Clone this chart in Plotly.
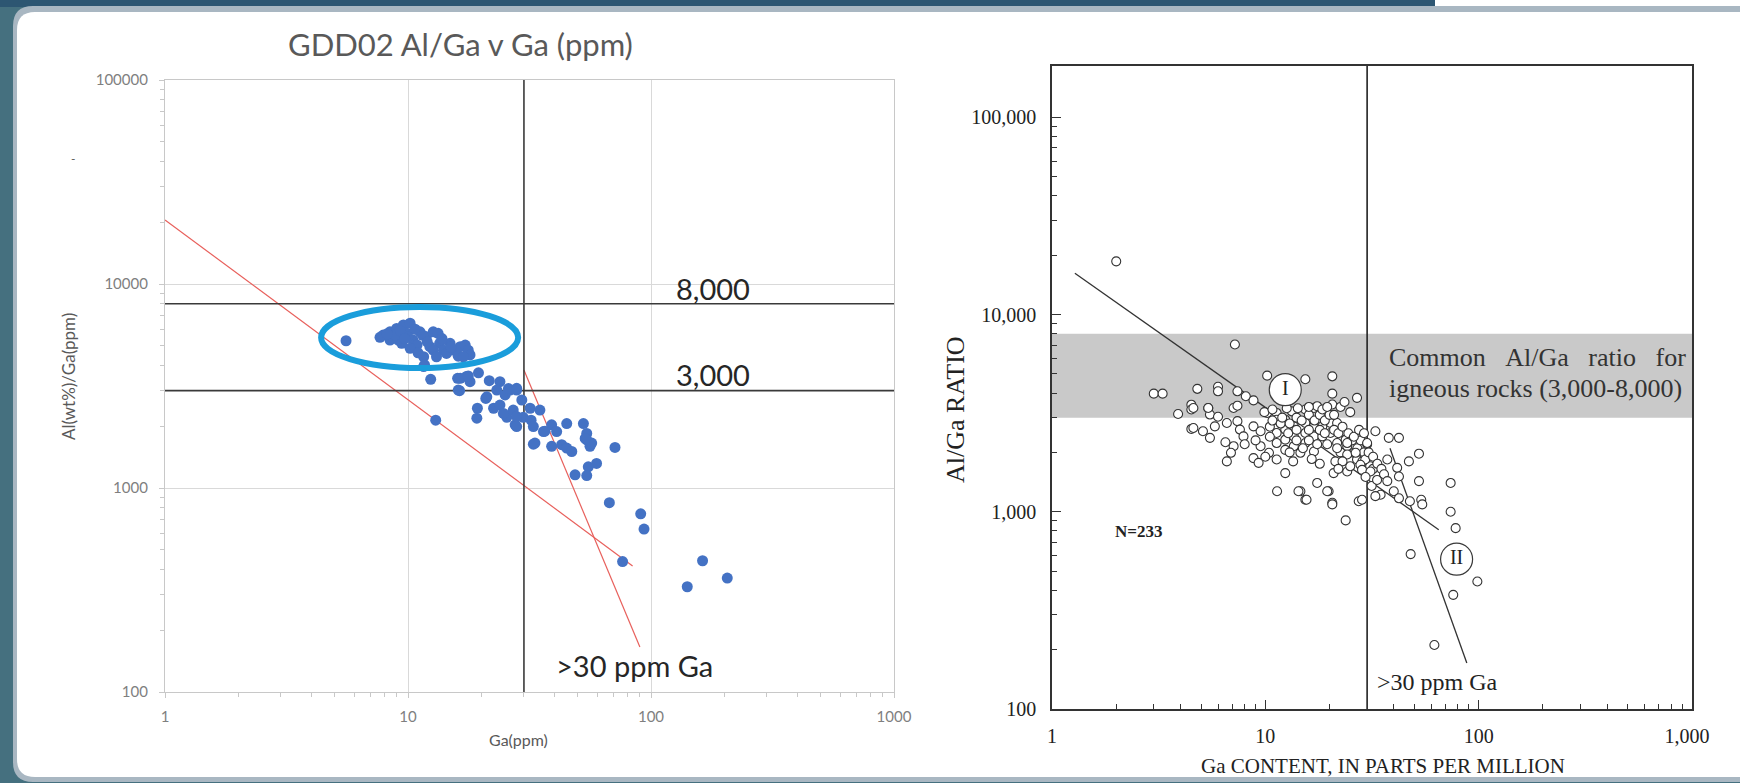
import plotly.graph_objects as go

W, H = 1740, 783

# ---------------- LEFT CHART DATA (GDD02) ----------------
gdd_cluster_ga = [5.56, 7.91, 8.43, 8.98, 9.57, 10.2, 9.88, 9.12, 10.5, 11.2, 10.9, 11.9,
                  12.7, 13.3, 12.3, 13.5, 14.0, 14.9, 15.4, 16.4, 17.2, 17.7, 18.0, 16.1,
                  11.6, 11.6, 7.67, 8.43, 9.42, 10.2, 12.7, 14.4, 16.9, 13.1, 8.85, 9.3,
                  10.7, 11.5, 12.0, 10.0, 11.0, 13.8, 15.0, 8.2, 9.7, 11.7]
gdd_cluster_ratio = [5270, 5620, 5830, 6060, 6300, 6420, 5730, 5310, 5310, 5830, 5020, 5520,
                     5830, 5730, 4930, 5120, 4740, 5120, 4740, 4930, 5020, 4740, 4490, 4430,
                     4400, 3940, 5480, 5310, 5120, 4840, 4740, 4570, 4400, 4400, 5620, 5900,
                     6000, 5600, 5200, 5500, 4600, 5400, 4900, 5700, 5400, 4010]
gdd_tail_ga = [12.4, 13.0, 16.3, 16.0, 17.4, 19.5, 18.0, 21.6, 23.9, 19.3,
               19.2, 20.9, 22.5, 23.2, 25.1, 26.3, 28.0, 25.5, 27.6, 23.9,
               27.1, 29.4, 29.8, 31.8, 34.9, 32.1, 32.8, 36.1, 39.0, 40.9,
               45.0, 39.0, 42.9, 45.0, 47.2, 52.7, 54.4, 54.4, 56.1, 57.0,
               53.6, 71.1, 59.7, 55.2, 48.7, 54.4, 67.4, 90.7, 93.6, 76.4,
               163, 206, 141,
               16.4, 17.7, 21.1, 25.9, 28.0, 24.7, 28.0, 32.8, 28.0, 33.3, 36.6, 16.1]
gdd_tail_ratio = [3410, 2150, 3000, 3450, 3520, 3670, 3320, 3360, 3320, 2460,
                  2200, 2750, 2460, 3020, 2860, 3020, 3080, 2220, 2040, 2550,
                  2410, 2700, 2220, 2460, 2410, 2150, 1640, 1890, 2040, 1890,
                  2070, 1600, 1630, 1570, 1510, 2070, 1850, 1720, 1600, 1660,
                  1750, 1580, 1320, 1270, 1160, 1150, 847, 747, 629, 436,
                  440, 362, 328,
                  3450, 3540, 2800, 3070, 3020, 2320, 2240, 2000, 2000, 1660, 1900, 3020]

red_line1_ga = [1, 84]
red_line1_ratio = [20600, 415]
red_line2_ga = [30, 90]
red_line2_ratio = [3790, 166]
highlight_ga = [4.39, 28.4]
highlight_ratio = [3873, 7710]

ratio_low, ratio_high, ga_cut = 3000, 8000, 30

# ---------------- RIGHT CHART DATA (reference, N=233) ----------------
ref_a_ga = [2.0, 7.2, 3.0, 3.3, 4.8, 6.0, 6.0, 10.2, 15.4, 20.6, 20.6, 20.6, 22.5, 26.9, 7.4, 8.1, 8.8]
ref_a_ratio = [18600, 7050, 3970, 3970, 4200, 4300, 4080, 4900, 4700, 4860, 3970, 3500, 3400, 3780, 4080, 3850, 3670]
ref_b_ga = [3.9, 4.5, 4.5, 5.4, 5.5, 6.0, 7.1, 7.4, 4.5, 5.1, 5.5, 5.8, 6.6, 7.4, 7.6, 7.9, 8.8, 9.5,
            7.1, 6.9, 6.6, 8.8, 9.3, 9.5, 10.4, 4.6, 5.4, 4.6, 10.0, 9.0, 8.0, 6.5]
ref_b_ratio = [3130, 3490, 3300, 3360, 3110, 3030, 3360, 3450, 2630, 2560, 2370, 2710, 2820, 2880, 2610, 2410, 2710, 2560,
               2150, 1990, 1800, 1870, 1770, 2150, 1990, 3360, 3360, 2660, 1900, 2300, 2200, 2250]
ref_c_ga = [10.2, 11.3, 11.3, 11.3, 11.3, 11.3, 12.4, 12.4, 12.4, 12.4, 13.3, 13.6, 13.6, 13.6, 14.6,
            15.4, 15.4, 15.4, 15.4, 16.9, 16.9, 16.9, 16.9, 17.5, 18.5, 18.5, 20.2, 20.2, 21.7, 21.7,
            23.8, 24.2, 26.0, 26.9]
ref_c_ratio = [3170, 3170, 2930, 2510, 2230, 1840, 2930, 2610, 2320, 2060, 3230, 2710, 2410, 2150, 1990,
               3300, 2820, 2510, 2230, 3360, 2710, 2410, 2020, 3430, 2710, 2410, 2820, 2510, 2820, 2230,
               2320, 2150, 1990, 1840]
ref_d_ga = [10.5, 10.5, 10.8, 11.8, 12.0, 12.8, 13.0, 13.0, 14.0, 14.0, 14.0, 14.8, 15.0, 16.0, 16.0,
            16.0, 17.0, 17.5, 18.0, 18.0, 19.0, 19.0, 19.5, 20.0, 21.0, 22.0, 23.0, 22.5, 24.5, 25.5,
            27.0, 28.0, 29.0, 28.5, 30.0, 31.0, 32.0]
ref_d_ratio = [2700, 2400, 2900, 2800, 3000, 2500, 2800, 2000, 2600, 2300, 3000, 2900, 2100, 2600, 3100,
               2300, 2900, 2200, 3100, 2600, 2500, 2900, 2200, 3100, 2600, 2500, 2700, 2000, 2500, 2300,
               2100, 2300, 2000, 1800, 2200, 1700, 1650]
ref_e_ga = [9.9, 10.8, 12.6, 14.2, 16.0, 18.5, 19.5, 21.0, 23.5, 25.0]
ref_e_ratio = [3200, 3300, 3350, 3350, 3400, 3300, 3400, 3100, 3600, 3200]
ref_f_ga = [12.4, 11.35, 14.6, 15.4, 17.5, 19.8, 20.6, 20.9, 27.4, 24.2, 14.3, 15.6, 19.5, 20.6, 23.8,
            28.4, 21.3, 21.7, 24.2, 24.2, 26.5, 29.4, 27.9, 28.4, 31.1, 30.0, 26.0, 27.5, 29.0, 30.5,
            32.0, 33.5, 35.0, 36.0, 29.5, 31.5, 25.0, 23.0, 22.0, 18.0, 16.5, 13.5]
ref_f_ratio = [1570, 1270, 1270, 1150, 1400, 1270, 1110, 1570, 1130, 1600, 1270, 1150, 1270, 1090, 904,
               1150, 1800, 2100, 2230, 1950, 1990, 1840, 1730, 1630, 1600, 2230, 2400, 2600, 2500, 2000,
               1900, 1750, 1650, 1550, 1500, 1350, 1700, 1800, 1650, 1750, 1850, 1800]
ref_g_ga = [32.8, 37.9, 42.3, 52.5, 47.1, 37.3, 41.5, 42.3, 37.3, 52.5, 73.9, 33.4, 34.7, 40.0, 42.3,
            47.6, 53.8, 54.4, 32.8, 73.9, 78.0, 48.0, 98.6, 76.0, 62.0]
ref_g_ratio = [2560, 2370, 2370, 1970, 1800, 1840, 1670, 1510, 1430, 1430, 1400, 1450, 1220, 1270, 1170,
               1130, 1150, 1090, 1200, 1000, 826, 610, 443, 379, 211]

trend_I_ga = [1.28, 65]
trend_I_ratio = [16200, 811]
trend_II_ga = [38.4, 88]
trend_II_ratio = [2100, 171]
group_label_ga = [12.4, 78.8]
group_label_ratio = [4160, 575]
group_labels = ["I", "II"]

left_x_ticks = [1, 10, 100, 1000]
left_x_text = ["1", "10", "100", "1000"]
left_y_ticks = [100, 1000, 10000, 100000]
left_y_text = ["100", "1000", "10000", "100000"]
right_x_ticks = [1, 10, 100, 1000]
right_x_text = ["1", "10", "100", "1,000&nbsp;&nbsp;"]
right_y_ticks = [100, 1000, 10000, 100000]
right_y_text = ["100", "1,000", "10,000", "100,000"]

gdd_ga = gdd_cluster_ga + gdd_tail_ga
gdd_ratio = gdd_cluster_ratio + gdd_tail_ratio
ref_ga = ref_a_ga + ref_b_ga + ref_c_ga + ref_d_ga + ref_e_ga + ref_f_ga + ref_g_ga
ref_ratio = ref_a_ratio + ref_b_ratio + ref_c_ratio + ref_d_ratio + ref_e_ratio + ref_f_ratio + ref_g_ratio
assert len(gdd_ga) == len(gdd_ratio)
assert len(ref_ga) == len(ref_ratio)

# ---------------- helpers ----------------
def px(x):
    return x / W


def py(y):
    return 1 - y / H


def left_rounded_path(x0, y0, x1, y1, r):
    """Panel with rounded left corners and a straight right edge at x1 (kept inside the page)."""
    pts = [
        f"M {px(x0 + r)},{py(y0)}",
        f"L {px(x1)},{py(y0)}",
        f"L {px(x1)},{py(y1)}",
        f"L {px(x0 + r)},{py(y1)}",
        f"Q {px(x0)},{py(y1)} {px(x0)},{py(y1 - r)}",
        f"L {px(x0)},{py(y0 + r)}",
        f"Q {px(x0)},{py(y0)} {px(x0 + r)},{py(y0)}",
        "Z",
    ]
    return " ".join(pts)


SANS = "Lato, 'Open Sans', sans-serif"
SERIF = "'Liberation Serif', 'DejaVu Serif', serif"

fig = go.Figure()

# ---- left chart traces ----
fig.add_trace(go.Scatter(x=red_line1_ga, y=red_line1_ratio, mode="lines",
                         line=dict(color="#e8605c", width=1.2), xaxis="x", yaxis="y", showlegend=False))
fig.add_trace(go.Scatter(x=red_line2_ga, y=red_line2_ratio, mode="lines",
                         line=dict(color="#e8605c", width=1.2), xaxis="x", yaxis="y", showlegend=False))
for r in (ratio_high, ratio_low):
    fig.add_trace(go.Scatter(x=[1, 1000], y=[r, r], mode="lines",
                             line=dict(color="#3a3a3a", width=1.6), xaxis="x", yaxis="y", showlegend=False))
fig.add_trace(go.Scatter(x=[ga_cut, ga_cut], y=[100, 100000], mode="lines",
                         line=dict(color="#3a3a3a", width=1.6), xaxis="x", yaxis="y", showlegend=False))
fig.add_trace(go.Scatter(x=gdd_ga, y=gdd_ratio, mode="markers",
                         marker=dict(color="#4472c4", size=11, line=dict(width=0)),
                         xaxis="x", yaxis="y", showlegend=False))

# ---- right chart traces ----
fig.add_trace(go.Scatter(x=[ga_cut, ga_cut], y=[100, 10 ** 5.26], mode="lines",
                         line=dict(color="#222222", width=1.6), xaxis="x2", yaxis="y2", showlegend=False))
fig.add_trace(go.Scatter(x=trend_I_ga, y=trend_I_ratio, mode="lines",
                         line=dict(color="#333333", width=1.3), xaxis="x2", yaxis="y2", showlegend=False))
fig.add_trace(go.Scatter(x=trend_II_ga, y=trend_II_ratio, mode="lines",
                         line=dict(color="#333333", width=1.3), xaxis="x2", yaxis="y2", showlegend=False))
fig.add_trace(go.Scatter(x=ref_ga, y=ref_ratio, mode="markers",
                         marker=dict(color="white", size=9, line=dict(color="#333333", width=1.1)),
                         xaxis="x2", yaxis="y2", showlegend=False))
fig.add_trace(go.Scatter(x=group_label_ga, y=group_label_ratio, mode="markers+text",
                         text=group_labels, textposition="middle center",
                         textfont=dict(family=SERIF, size=20, color="#222222"),
                         marker=dict(color="white", size=32, line=dict(color="#3a3a3a", width=1.2)),
                         xaxis="x2", yaxis="y2", showlegend=False))

# ---- shapes ----
shapes = [
    dict(type="rect", xref="paper", yref="paper", x0=0, x1=px(1435), y0=py(7), y1=1,
         fillcolor="#2d5672", line=dict(width=0), layer="below"),
    dict(type="rect", xref="paper", yref="paper", x0=px(1435), x1=1, y0=py(7), y1=1,
         fillcolor="white", line=dict(width=0), layer="below"),
    dict(type="path", xref="paper", yref="paper", path=left_rounded_path(13, 6, 1740, 782, 20),
         fillcolor="#a9b7c2", line=dict(width=0), layer="below"),
    dict(type="path", xref="paper", yref="paper", path=left_rounded_path(17, 12, 1740, 777, 18),
         fillcolor="white", line=dict(width=0), layer="below"),
    dict(type="circle", xref="x", yref="y", x0=highlight_ga[0], x1=highlight_ga[1],
         y0=highlight_ratio[0], y1=highlight_ratio[1],
         line=dict(color="#1a9ddb", width=6), layer="above"),
    dict(type="rect", xref="x2 domain", yref="y2", x0=0, x1=1, y0=ratio_low, y1=ratio_high,
         fillcolor="#c9c9c9", line=dict(width=0), layer="below"),
]


def ann(text, x, y, size, color, family, xanchor="center", yanchor="middle", **kw):
    d = dict(text=text, xref="paper", yref="paper", x=px(x), y=py(y), showarrow=False,
             xanchor=xanchor, yanchor=yanchor, font=dict(size=size, color=color, family=family))
    d.update(kw)
    return d


annotations = [
    ann("GDD02 Al/Ga v Ga (ppm)", 460, 44, 31, "#595959", SANS),
    ann("Al(wt%)/Ga(ppm)", 69, 377, 17, "#595959", SANS, textangle=-90),
    ann("-", 73, 158, 12, "#595959", SANS),
    ann("Ga(ppm)", 518, 739, 16, "#595959", SANS),
    ann("8,000", 713, 289, 29, "#262626", SANS),
    ann("3,000", 713, 374, 29, "#262626", SANS),
    ann(">30 ppm Ga", 634, 665, 29, "#262626", SANS),
    ann("Al/Ga RATIO", 955, 410, 26, "#222222", SERIF, textangle=-90),
    ann("Ga CONTENT, IN PARTS PER MILLION", 1383, 766, 21, "#222222", SERIF),
    ann("<b>N=233</b>", 1113, 531, 17, "#222222", SERIF, xanchor="left"),
    ann("Common&nbsp;&nbsp;&nbsp;Al/Ga&nbsp;&nbsp;&nbsp;ratio&nbsp;&nbsp;&nbsp;for",
        1387, 357, 26, "#333333", SERIF, xanchor="left"),
    ann("igneous rocks (3,000-8,000)", 1387, 388, 26, "#333333", SERIF, xanchor="left"),
    ann(">30 ppm Ga", 1437, 682, 24, "#222222", SERIF),
]

minor_left_x = [m * 10 ** e for e in range(0, 3) for m in range(2, 10)]
minor_left_y = [m * 10 ** e for e in range(2, 5) for m in range(2, 10)]
minor_right_x = [m * 10 ** e for e in range(0, 3) for m in range(2, 10)]
minor_right_y = [m * 10 ** e for e in range(2, 6) for m in range(2, 10) if m * 10 ** e < 10 ** 5.26]

fig.update_layout(
    template="none",
    width=W, height=H, autosize=False,
    margin=dict(l=0, r=0, t=0, b=0, pad=0, autoexpand=False),
    paper_bgcolor="#45707f",
    plot_bgcolor="rgba(0,0,0,0)",
    showlegend=False,
    shapes=shapes,
    annotations=annotations,
    xaxis=dict(type="log", range=[0, 3], domain=[px(165), px(894)], anchor="y", automargin=False,
               tickvals=left_x_ticks, ticktext=left_x_text,
               showgrid=True, gridcolor="#d9d9d9", gridwidth=1.2,
               showline=True, linecolor="#c8c8c8", linewidth=1.2, mirror=True,
               ticks="outside", ticklen=5, tickcolor="#c8c8c8", ticklabelstandoff=6,
               minor=dict(tickvals=minor_left_x, ticks="outside", ticklen=4, tickcolor="#c8c8c8", showgrid=False),
               tickfont=dict(family=SANS, size=15, color="#7f7f7f"), zeroline=False),
    yaxis=dict(type="log", range=[2, 5], domain=[py(692), py(80)], anchor="x", automargin=False,
               tickvals=left_y_ticks, ticktext=left_y_text,
               showgrid=True, gridcolor="#d9d9d9", gridwidth=1.2,
               showline=True, linecolor="#c8c8c8", linewidth=1.2, mirror=True,
               ticks="outside", ticklen=5, tickcolor="#c8c8c8", ticklabelstandoff=8,
               minor=dict(tickvals=minor_left_y, ticks="outside", ticklen=4, tickcolor="#c8c8c8", showgrid=False),
               tickfont=dict(family=SANS, size=15, color="#7f7f7f"), zeroline=False),
    xaxis2=dict(type="log", range=[0, 3], domain=[px(1052), px(1692)], anchor="y2", automargin=False,
                tickvals=right_x_ticks, ticktext=right_x_text,
                showgrid=False, showline=True, linecolor="#333333", linewidth=1.6, mirror=True,
                ticks="inside", ticklen=9, tickwidth=1.3, tickcolor="#333333", ticklabelstandoff=8,
                minor=dict(tickvals=minor_right_x, ticks="inside", ticklen=5, tickwidth=1, tickcolor="#333333", showgrid=False),
                tickfont=dict(family=SERIF, size=20, color="#222222"), zeroline=False),
    yaxis2=dict(type="log", range=[2, 5.26], domain=[py(709), py(66)], anchor="x2", automargin=False,
                tickvals=right_y_ticks, ticktext=right_y_text,
                showgrid=False, showline=True, linecolor="#333333", linewidth=1.6, mirror=True,
                ticks="inside", ticklen=9, tickwidth=1.3, tickcolor="#333333", ticklabelstandoff=10,
                minor=dict(tickvals=minor_right_y, ticks="inside", ticklen=5, tickwidth=1, tickcolor="#333333", showgrid=False),
                tickfont=dict(family=SERIF, size=20, color="#222222"), zeroline=False),
)

fig.write_html("out.html",
               config={"displayModeBar": False},
               post_script="document.body.style.margin='0';document.body.style.overflow='hidden';")
